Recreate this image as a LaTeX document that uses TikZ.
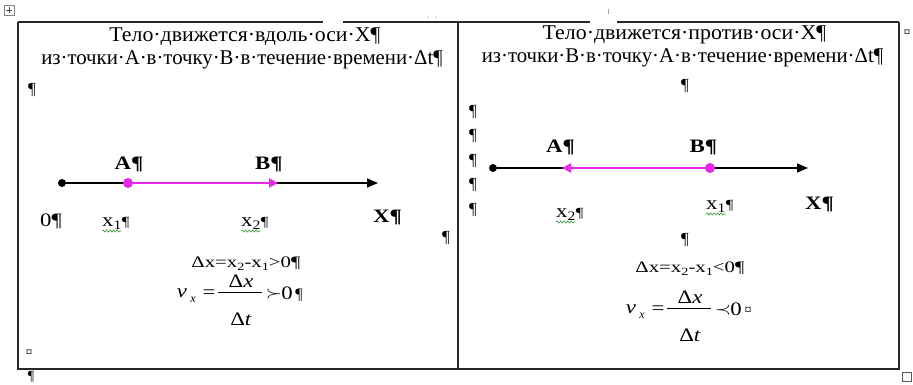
\documentclass[tikz,border=0pt]{standalone}
\usepackage{fontspec}
\usepackage{graphicx}
\setmainfont{Liberation Serif}
\usetikzlibrary{arrows.meta,decorations.pathmorphing,calc}
\definecolor{mag}{RGB}{232,40,232}
\definecolor{bordc}{RGB}{40,40,40}
\definecolor{wavy}{RGB}{60,150,60}
\newcommand{\hs}[1]{\scalebox{1.3}[1]{#1}}
\newcommand{\hf}[1]{\scalebox{1.2}[1]{#1}}
\newcommand{\hl}[1]{\scalebox{1.2}[1]{#1}}
\newcommand{\smalls}[1]{\raisebox{-3pt}{\fontsize{13}{15}\selectfont #1}}
\newcommand{\eqsub}[1]{\raisebox{-3pt}{\fontsize{11}{13}\selectfont #1}}
\tikzset{
  bord/.style={draw=bordc, line width=1.4pt},
  ttl/.style={inner sep=0pt, anchor=base, font=\fontsize{21}{25}\selectfont},
  lblb/.style={inner sep=0pt, anchor=base, font=\fontsize{19}{23}\selectfont\bfseries},
  lblr/.style={inner sep=0pt, anchor=base, font=\fontsize{19}{23}\selectfont},
  pil/.style={inner sep=0pt, anchor=center, font=\fontsize{17}{20}\selectfont},
  eqs/.style={inner sep=0pt, anchor=base, font=\fontsize{16}{19}\selectfont},
  fml/.style={inner sep=0pt, anchor=base, font=\fontsize{19}{22}\selectfont},
  fsub/.style={inner sep=0pt, anchor=base, font=\fontsize{12}{14}\selectfont\itshape},
  bdot/.style={circle, fill=black, inner sep=0pt, minimum size=8pt},
  mdot/.style={circle, fill=mag, inner sep=0pt, minimum size=10pt},
  axisline/.style={line width=1.3pt, -{Triangle[length=11pt,width=9pt]}},
  magarrow/.style={draw=mag, line width=2.8pt, -{Triangle[length=9pt,width=9pt]}},
  wav/.style={draw=wavy, line width=0.6pt, decorate, decoration={snake, amplitude=1.1pt, segment length=3.5pt}},
}
\begin{document}
\begin{tikzpicture}[x=1pt,y=-1pt]
\useasboundingbox (0,0) rectangle (913,385);
\fill[white] (0,0) rectangle (913,385);
% table borders (with the gaps of the screenshot)
\draw[bord] (18,22) -- (323,22);
\draw[bord] (343,22) -- (590,22);
\draw[bord] (617,22) -- (899,22);
\draw[bord] (18,22) -- (18,369) -- (899,369) -- (899,22);
\draw[bord] (458,22) -- (458,369);
% small marks of the screenshot
\draw[gray, line width=0.8pt] (4,5) rectangle (14,15);
\draw[gray!60!black, line width=0.8pt] (9,7) -- (9,13) (6,10) -- (12,10);
\draw[gray!70, line width=1pt] (608,9) -- (608,14);
\fill[gray!50] (428,17) circle (0.8pt) (436,17) circle (0.8pt);
\draw[gray!70!black, fill=white, line width=0.8pt] (902,372) rectangle (911,381);
\node[inner sep=0pt, font=\fontsize{13}{15}\selectfont] (rowend) at (907,33) {¤};
\node[inner sep=0pt, font=\fontsize{13}{15}\selectfont] (cellendL) at (29,353) {¤};
\node[inner sep=0pt, font=\fontsize{14}{16}\selectfont] (parbelow) at (31,377) {¶};

% ---------- left cell ----------
\node[ttl] (tl1) at (245,42) {\scalebox{1.04}[1]{Тело·движется·вдоль·оси·X¶}};
\node[ttl] (tl2) at (242,65) {\scalebox{0.99}[1]{из·точки·А·в·точку·В·в·течение·времени·Δt¶}};
\node[pil] (pl1) at (32,90) {¶};

\node[bdot] (o1) at (62,183) {};
\coordinate (e1) at (378,183);
\draw[axisline] (o1.center) -- (e1);
\node[mdot] (a1) at (128,183) {};
\coordinate (b1) at (278,183);
\draw[magarrow] (a1.center) -- (b1);

\node[lblb] (lA1) at (129,169) {\hl{A¶}};
\node[lblb] (lB1) at (269,169) {\hl{B¶}};
\node[lblr] (l01) at (51,226) {\hl{0¶}};
\node[lblr, anchor=base west] (lx11) at (102,226) {\hl{x\smalls{1}}};
\node[inner sep=0pt, anchor=base west, font=\fontsize{14}{16}\selectfont] (lx11p) at (lx11.base east) {\hl{¶}};
\node[lblr, anchor=base west] (lx21) at (241,226) {\hl{x\smalls{2}}};
\node[inner sep=0pt, anchor=base west, font=\fontsize{14}{16}\selectfont] (lx21p) at (lx21.base east) {\hl{¶}};
\draw[wav] ($(lx11.base west)+(0,5)$) -- ($(lx11.base east)+(0,5)$);
\draw[wav] ($(lx21.base west)+(0,5)$) -- ($(lx21.base east)+(0,5)$);
\node[lblb] (lX1) at (387.5,222) {\hl{X¶}};
\node[pil] (pl2) at (446,238) {¶};

\node[eqs] (dx1) at (246,267) {\hs{Δx=x\eqsub{2}-x\eqsub{1}>0¶}};

% formula left
\coordinate (fc1) at (240,292);
\draw[line width=1pt] ($(fc1)+(-22,0)$) -- ($(fc1)+(22,0)$);
\node[fml] (num1) at ($(fc1)+(1,-5)$) {\hf{Δ\textit{x}}};
\node[fml] (den1) at ($(fc1)+(1,33)$) {\hf{Δ\textit{t}}};
\node[fml] (v1) at ($(fc1)+(-58,5)$) {\hf{\textit{v}}};
\node[fsub] (vs1) at ($(fc1)+(-47,10)$) {x};
\node[fml] (eq1) at ($(fc1)+(-31,6)$) {\hf{=}};
\node[fml] (rel1) at ($(fc1)+(34,6)$) {\hf{$\succ$}};
\node[fml] (z1) at ($(fc1)+(47,7)$) {\hf{0}};
\node[inner sep=0pt, anchor=base, font=\fontsize{16}{19}\selectfont] (zp1) at ($(fc1)+(59,7)$) {¶};

% ---------- right cell ----------
\node[ttl] (tr1) at (684.5,40) {\scalebox{1.04}[1]{Тело·движется·против·оси·X¶}};
\node[ttl] (tr2) at (682.5,63) {\scalebox{0.99}[1]{из·точки·В·в·точку·А·в·течение·времени·Δt¶}};
\node[pil] (pr1) at (685,86) {¶};
\node[pil] (pc1) at (473,112) {¶};
\node[pil] (pc2) at (473,136) {¶};
\node[pil] (pc3) at (473,161) {¶};
\node[pil] (pc4) at (473,185) {¶};
\node[pil] (pc5) at (473,210) {¶};

\node[bdot] (o2) at (493,168) {};
\coordinate (e2) at (808,168);
\draw[axisline] (o2.center) -- (e2);
\node[mdot] (b2) at (710,168) {};
\coordinate (a2) at (562,168);
\draw[magarrow] (b2.center) -- (a2);

\node[lblb] (lA2) at (560.5,153) {\hl{A¶}};
\node[lblb] (lB2) at (703.5,153) {\hl{B¶}};
\node[lblr, anchor=base west] (lx22) at (556,217) {\hl{x\smalls{2}}};
\node[inner sep=0pt, anchor=base west, font=\fontsize{14}{16}\selectfont] (lx22p) at (lx22.base east) {\hl{¶}};
\node[lblr, anchor=base west] (lx12) at (706,209) {\hl{x\smalls{1}}};
\node[inner sep=0pt, anchor=base west, font=\fontsize{14}{16}\selectfont] (lx12p) at (lx12.base east) {\hl{¶}};
\draw[wav] ($(lx22.base west)+(0,5)$) -- ($(lx22.base east)+(0,5)$);
\draw[wav] ($(lx12.base west)+(0,5)$) -- ($(lx12.base east)+(0,5)$);
\node[lblb] (lX2) at (819.5,209) {\hl{X¶}};
\node[pil] (pr2) at (685,240) {¶};

\node[eqs] (dx2) at (690,272) {\hs{Δx=x\eqsub{2}-x\eqsub{1}<0¶}};

% formula right
\coordinate (fc2) at (689,308);
\draw[line width=1pt] ($(fc2)+(-22,0)$) -- ($(fc2)+(22,0)$);
\node[fml] (num2) at ($(fc2)+(1,-5)$) {\hf{Δ\textit{x}}};
\node[fml] (den2) at ($(fc2)+(1,33)$) {\hf{Δ\textit{t}}};
\node[fml] (v2) at ($(fc2)+(-58,5)$) {\hf{\textit{v}}};
\node[fsub] (vs2) at ($(fc2)+(-47,10)$) {x};
\node[fml] (eq2) at ($(fc2)+(-31,6)$) {\hf{=}};
\node[fml] (rel2) at ($(fc2)+(34,6)$) {\hf{$\prec$}};
\node[fml] (z2) at ($(fc2)+(47,7)$) {\hf{0}};
\node[inner sep=0pt, anchor=base, font=\fontsize{14}{16}\selectfont] (zp2) at ($(fc2)+(59,6)$) {¤};
\end{tikzpicture}
\end{document}
